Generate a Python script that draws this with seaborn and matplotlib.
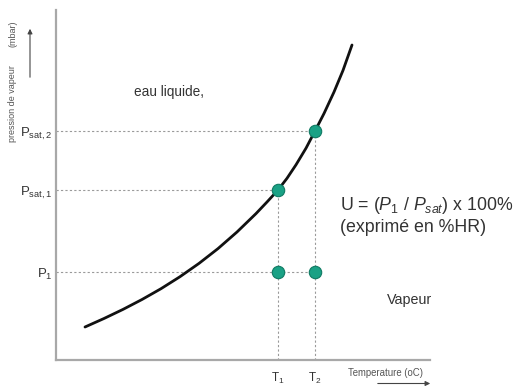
import matplotlib
matplotlib.use("Agg")
import matplotlib.pyplot as plt
import seaborn as sns
import pandas as pd

# Saturation vapour-pressure curve (temperature, pressure) in plot units
curve_T = [29, 48, 67, 86, 105, 124, 143, 162, 181, 200, 211, 222,
           231, 240, 250, 259, 268, 278, 287, 296]
curve_P = [33, 41.5, 50.6, 60.5, 71.3, 83.3, 96.6, 111.4, 128, 146.4, 158,
           170, 181.7, 195.2, 211.8, 229, 246.5, 268, 289.6, 315]

# Marked states
T1, T2 = 222, 259
P_sat1, P_sat2, P1 = 170, 229, 88
point_T = [T1, T2, T1, T2]
point_P = [P_sat1, P_sat2, P1, P1]

x_ticks = [T1, T2]
x_tick_labels = [r"T$_\mathrm{1}$", r"T$_\mathrm{2}$"]
y_ticks = [P1, P_sat1, P_sat2]
y_tick_labels = [r"P$_\mathrm{1}$", r"P$_\mathrm{sat,1}$", r"P$_\mathrm{sat,2}$"]

sns.set_theme(style="white")
plt.rcParams["font.family"] = ["Liberation Sans", "DejaVu Sans"]
plt.rcParams["mathtext.fontset"] = "custom"
plt.rcParams["mathtext.rm"] = "Liberation Sans"
plt.rcParams["mathtext.it"] = "Liberation Sans:italic"
plt.rcParams["mathtext.bf"] = "Liberation Sans:bold"

W, H = 519, 387
fig = plt.figure(figsize=(W / 100, H / 100), dpi=100)
ax = fig.add_axes([56 / W, 27 / H, 374 / W, 350 / H])
ax.set_xlim(0, 374)
ax.set_ylim(0, 350)

grid_kw = dict(color="#9a9a9a", lw=0.8, linestyle=(0, (2, 2)), zorder=1)
ax.plot([0, T2], [P_sat2, P_sat2], **grid_kw)
ax.plot([0, T1], [P_sat1, P_sat1], **grid_kw)
ax.plot([0, T2], [P1, P1], **grid_kw)
ax.plot([T1, T1], [0, P_sat1], **grid_kw)
ax.plot([T2, T2], [0, P_sat2], **grid_kw)

curve = pd.DataFrame({"T": curve_T, "P": curve_P})
sns.lineplot(data=curve, x="T", y="P", ax=ax, color="#111111", lw=2,
             sort=False, zorder=2, solid_joinstyle="round",
             solid_capstyle="round")

pts = pd.DataFrame({"T": point_T, "P": point_P})
sns.scatterplot(data=pts, x="T", y="P", ax=ax, s=80, color="#1aa185",
                edgecolor="#0f7a63", linewidth=0.8, zorder=3)

for side in ("top", "right"):
    ax.spines[side].set_visible(False)
for side in ("left", "bottom"):
    ax.spines[side].set_color("#a8a8a8")
    ax.spines[side].set_linewidth(1.6)

ax.set_xticks(x_ticks, labels=x_tick_labels)
ax.set_yticks(y_ticks, labels=y_tick_labels)
ax.tick_params(axis="x", length=0, pad=8, labelsize=8.5, labelcolor="#333333")
ax.tick_params(axis="y", length=0, pad=2.5, labelsize=9.5, labelcolor="#333333")
ax.set_xlabel("")
ax.set_ylabel("")

ax.text(78, 268, "eau liquide,", fontsize=9.8, color="#333333", va="center")
ax.text(284, 155, r"U = ($P_1$ / $P_{sat}$) x 100%", fontsize=12.8,
        color="#333333", va="center")
ax.text(284, 132, "(exprimé en %HR)", fontsize=12.8, color="#333333",
        va="center")
ax.text(331, 60, "Vapeur", fontsize=10.3, color="#333333", va="center")

# Axis titles with direction arrows
fig.text(13 / W, 1 - 104 / H, "pression de vapeur", rotation=90,
         fontsize=6.5, color="#555555", ha="center", va="center")
fig.text(13 / W, 1 - 34 / H, "(mbar)", rotation=90,
         fontsize=6.5, color="#555555", ha="center", va="center")
fig.text(385 / W, 14 / H, "Temperature (oC)", fontsize=6.9, color="#555555",
         ha="center", va="center")
fig.add_artist(matplotlib.patches.FancyArrowPatch(
    (30 / W, 1 - 80 / H), (30 / W, 1 - 26 / H), transform=fig.transFigure,
    arrowstyle="-|>", mutation_scale=7, color="#444444", lw=0.8))
fig.add_artist(matplotlib.patches.FancyArrowPatch(
    (375 / W, 3.5 / H), (433 / W, 3.5 / H), transform=fig.transFigure,
    arrowstyle="-|>", mutation_scale=7, color="#444444", lw=0.8))

fig.savefig("out.png", dpi=100)
